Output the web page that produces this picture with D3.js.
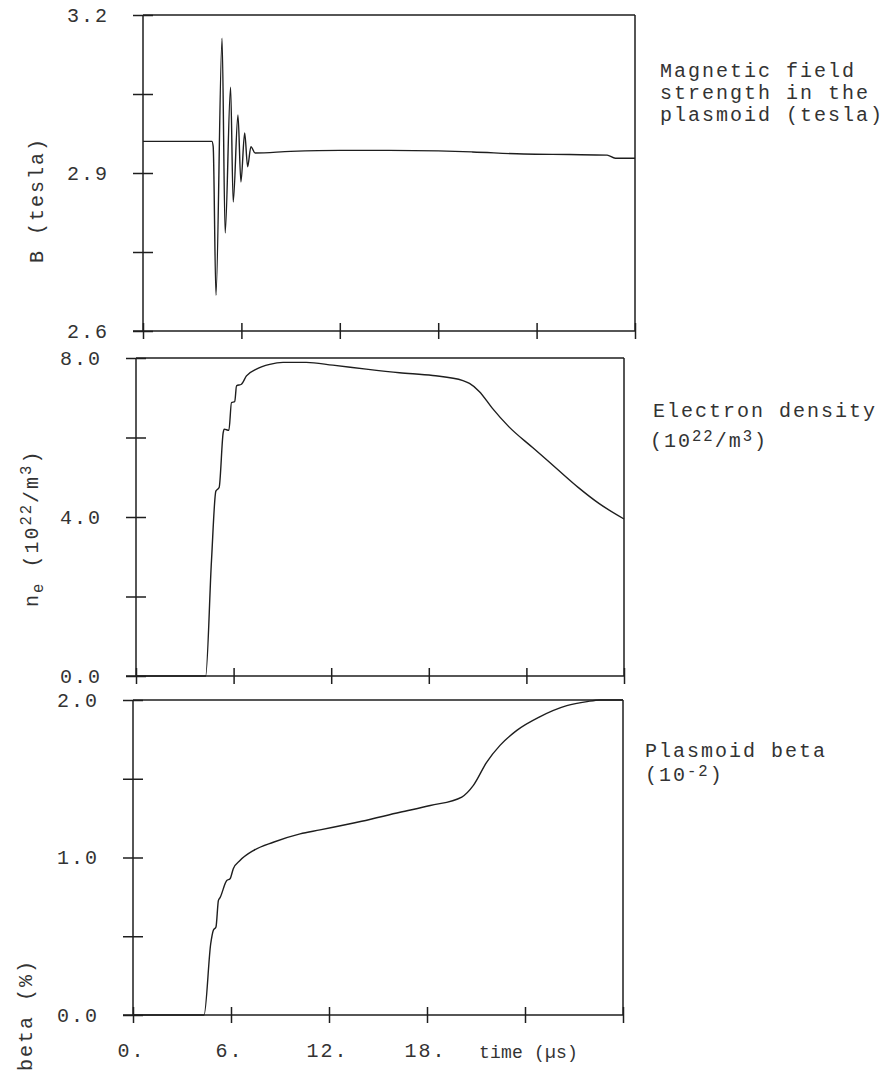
<!DOCTYPE html>
<html>
<head>
<meta charset="utf-8">
<script src="https://cdn.jsdelivr.net/npm/d3@7"></script>
<style>
  body { margin: 0; background: #fff; }
  text { font-family: "Courier New", "Liberation Mono", monospace; fill: #333; }
</style>
</head>
<body>
<div id="chart"></div>
<script>
// time axis (microseconds), shared by all three panels
var timeTicks = [0, 6, 12, 18, 24, 30];
var timeLabels = ["0.", "6.", "12.", "18.", "", ""];

// magnetic field in the plasmoid (tesla)
var bTime  = [0, 4.2, 4.28, 4.45, 4.82, 5.01, 5.34, 5.50, 5.79, 5.97, 6.2, 6.38, 6.58, 6.83, 9, 12, 15, 18, 20.1, 23.2, 26, 28.3, 28.8, 30];
var bField = [2.96, 2.96, 2.95, 2.668, 3.156, 2.786, 3.063, 2.845, 3.010, 2.883, 2.976, 2.912, 2.950, 2.938, 2.941, 2.943, 2.943, 2.942, 2.940, 2.936, 2.935, 2.934, 2.928, 2.928];
var bTicks  = [2.6, 2.75, 2.9, 3.05, 3.2];
var bLabels = ["2.6", "", "2.9", "", "3.2"];

// electron density (10^22 / m^3)
var neTime    = [0, 4.28, 4.64, 4.91, 5.11, 5.36, 5.42, 5.71, 5.87, 6.07, 6.18, 6.48, 6.79, 7.40, 8.22, 9.04, 10.47, 12.1, 14.15, 16.2, 18.24, 20.1, 20.5, 21.1, 21.9, 22.9, 24.4, 25.8, 27.2, 28.5, 30];
var neDensity = [0, 0, 2.9, 4.65, 4.74, 6.12, 6.21, 6.18, 6.88, 6.90, 7.30, 7.34, 7.55, 7.72, 7.84, 7.89, 7.89, 7.82, 7.72, 7.63, 7.56, 7.43, 7.36, 7.16, 6.74, 6.28, 5.74, 5.24, 4.74, 4.33, 3.95];
var neTicks  = [0, 2, 4, 6, 8];
var neLabels = ["0.0", "", "4.0", "", "8.0"];

// plasmoid beta (10^-2)
var betaTime  = [0, 4.35, 4.76, 4.92, 5.08, 5.23, 5.33, 5.74, 5.94, 6.14, 6.55, 7.37, 8.59, 10.23, 11.45, 14, 16.35, 18.2, 20.13, 20.84, 21.66, 22.47, 23.5, 24.9, 26.56, 27.8, 28.6, 30];
var betaValue = [0, 0, 0.454, 0.538, 0.559, 0.728, 0.745, 0.854, 0.865, 0.929, 0.981, 1.044, 1.097, 1.150, 1.175, 1.23, 1.287, 1.33, 1.384, 1.458, 1.606, 1.712, 1.807, 1.893, 1.964, 1.99, 2.0, 2.0];
var betaTicks  = [0, 0.5, 1, 1.5, 2];
var betaLabels = ["0.0", "", "1.0", "", "2.0"];

var drawPlot = (function() {

    var ink = "#1e1e1e";
    var fontSize = 20;
    var spacing = "2px";

// one framed panel with its curve
    function panel(svg, box, yTicks, yLabels, times, values, xLabels) {
        var g = svg.append("g");

        var x = d3.scaleLinear().domain([0, 30]).range([box.x0, box.x1]);
        var y = d3.scaleLinear().domain([yTicks[0], yTicks[yTicks.length - 1]]).range([box.y1, box.y0]);

    //left ticks, crossing the axis
        var left = g.append("g")
            .attr("transform", "translate(" + (box.x0 + 10) + ",0)")
            .call(d3.axisLeft(y).tickValues(yTicks).tickSize(20).tickPadding(24)
                .tickFormat(function(d, i) { return yLabels[i]; }));
        left.select(".domain").remove();
        left.selectAll("line").style("stroke", ink).style("stroke-width", "1.5px");
        left.selectAll("text").attr("font-size", fontSize).attr("dy", "0.3em")
            .style("letter-spacing", spacing);

    //bottom ticks, crossing the axis
        var bottom = g.append("g")
            .attr("transform", "translate(0," + (box.y1 - 8) + ")")
            .call(d3.axisBottom(x).tickValues(timeTicks).tickSize(16).tickPadding(20)
                .tickFormat(function(d, i) { return xLabels ? xLabels[i] : ""; }));
        bottom.select(".domain").remove();
        bottom.selectAll("line").style("stroke", ink).style("stroke-width", "1.5px");
        bottom.selectAll("text").attr("font-size", fontSize).attr("dx", -2)
            .style("letter-spacing", spacing);

    //frame
        var frame = [
            [box.x0 - 10, box.y1, box.x1, box.y1],
            [box.x0, box.y0, box.x1, box.y0],
            [box.x0, box.y0, box.x0, box.y1],
            [box.x1, box.y0, box.x1, box.y1]
        ];
        g.selectAll(".frame").data(frame).enter().append("line")
            .attr("x1", function(d) { return d[0]; })
            .attr("y1", function(d) { return d[1]; })
            .attr("x2", function(d) { return d[2]; })
            .attr("y2", function(d) { return d[3]; })
            .style("stroke", ink)
            .style("stroke-width", "1.5px");

    //the measured curve
        var line = d3.line()
            .x(function(d, i) { return x(times[i]); })
            .y(function(d) { return y(d); })
            .curve(d3.curveMonotoneX);
        g.append("path")
            .datum(values)
            .attr("d", line)
            .style("fill", "none")
            .style("stroke", ink)
            .style("stroke-width", "1.4px");
        return g;
    }

//text with sub/superscript pieces, parts = [text, shift]
    function richText(svg, parts, transform) {
        var t = svg.append("text")
            .attr("transform", transform)
            .attr("font-size", fontSize)
            .style("letter-spacing", spacing);
        var shift = 0;
        parts.forEach(function(p) {
            t.append("tspan")
                .attr("dy", p[1] - shift)
                .attr("font-size", p[1] === 0 ? fontSize : fontSize * 0.78)
                .text(p[0]);
            shift = p[1];
        });
        return t;
    }

    return {
        render: function(placement) {
            d3.select(placement).html("");
            var svg = d3.select(placement).append("svg")
                .attr("width", 885)
                .attr("height", 1071);

            //magnetic field
            panel(svg, {x0: 143, x1: 635, y0: 15, y1: 331}, bTicks, bLabels, bTime, bField, null);
            //electron density
            panel(svg, {x0: 136, x1: 624, y0: 358, y1: 676}, neTicks, neLabels, neTime, neDensity, null);
            //beta
            panel(svg, {x0: 133, x1: 623, y0: 700, y1: 1015}, betaTicks, betaLabels, betaTime, betaValue, timeLabels);

            //axis titles
            richText(svg, [["B (tesla)", 0]], "translate(43,263) rotate(-90)");
            richText(svg, [["n", 0], ["e", 5], [" (10", 0], ["22", -7], ["/m", 0], ["3", -7], [")", 0]],
                "translate(38,607) rotate(-90)");
            richText(svg, [["beta (%)", 0]], "translate(32,1071) rotate(-90)");

            svg.append("text")
                .attr("x", 479)
                .attr("y", 1058)
                .attr("font-size", 18)
                .style("letter-spacing", "0.2px")
                .text("time (\u00b5s)");

            //panel captions on the right
            var notes = [
                ["Magnetic field", 660, 77],
                ["strength in the", 660, 99],
                ["plasmoid (tesla)", 660, 121],
                ["Electron density", 653, 417],
                ["Plasmoid beta", 645, 757]
            ];
            svg.selectAll(".note").data(notes).enter().append("text")
                .attr("x", function(d) { return d[1]; })
                .attr("y", function(d) { return d[2]; })
                .attr("font-size", fontSize)
                .style("letter-spacing", spacing)
                .text(function(d) { return d[0]; });

            richText(svg, [["(10", 0], ["22", -6], ["/m", 0], ["3", -6], [")", 0]], "translate(650,447)");
            richText(svg, [["(10", 0], ["-2", -5], [")", 0]], "translate(645,781)");
        }
    };
})();

drawPlot.render("#chart");
</script>
</body>
</html>
